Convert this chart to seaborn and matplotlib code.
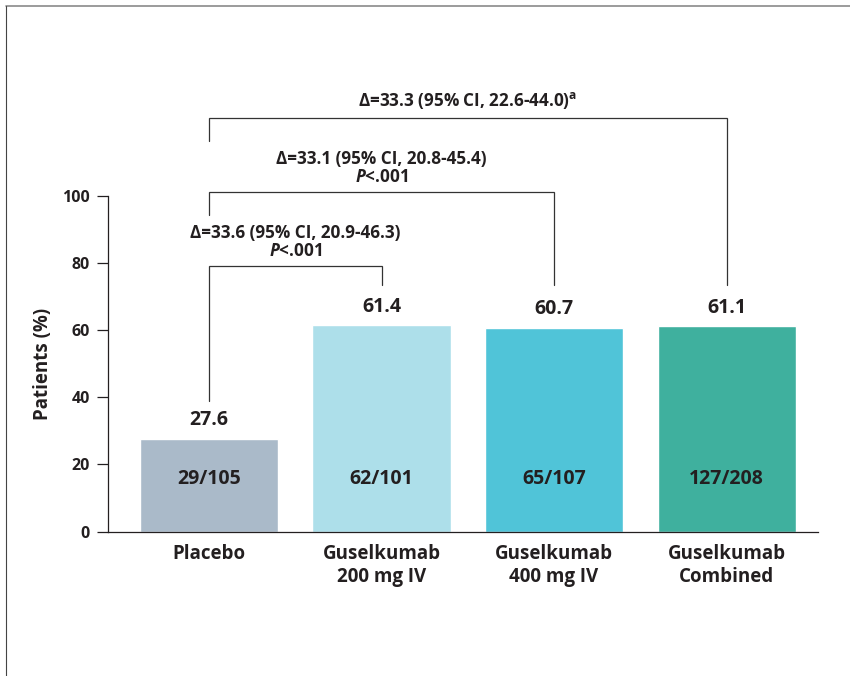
import pandas as pd
import seaborn as sns
import matplotlib.pyplot as plt
from matplotlib.lines import Line2D

# data
groups = ["Placebo", "Guselkumab\n200 mg IV", "Guselkumab\n400 mg IV", "Guselkumab\nCombined"]
pct = [27.6, 61.4, 60.7, 61.1]
counts = ["29/105", "62/101", "65/107", "127/208"]
colors = ["#aabac9", "#addfea", "#50c4d8", "#3fb09e"]

# comparison brackets vs placebo: (target group index, delta text, p text)
comparisons = [
    (1, "Δ=33.6 (95% CI, 20.9-46.3)", "$\\mathit{P}$<.001"),
    (2, "Δ=33.1 (95% CI, 20.8-45.4)", "$\\mathit{P}$<.001"),
    (3, "Δ=33.3 (95% CI, 22.6-44.0)$^{\\mathregular{a}}$", None),
]
bracket_top = [79, 101, 123]
placebo_leg_bottom = [38.8, 94.3, 116.3]
target_leg_bottom = 73.3

sns.set_style("white")
plt.rcParams["font.family"] = ["Open Sans", "DejaVu Sans"]
plt.rcParams["font.weight"] = "bold"
plt.rcParams["mathtext.fontset"] = "custom"
plt.rcParams["mathtext.rm"] = "Open Sans:bold"
plt.rcParams["mathtext.it"] = "Open Sans:italic:bold"
txt = "#231f20"

df = pd.DataFrame({"group": groups, "pct": pct})

fig = plt.figure(figsize=(8.5, 6.76), dpi=100)
ax = fig.add_axes([0.1271, 0.2135, 0.8353, 0.4970])
sns.barplot(data=df, x="group", y="pct", hue="group", palette=colors,
            width=0.8, saturation=1, legend=False, ax=ax)

ax.set_xlim(-0.585, 3.53)
ax.set_ylim(0, 100)
ax.set_yticks(range(0, 101, 20))
ax.set_xlabel("")
ax.set_ylabel("Patients (%)", fontsize=13.5, fontweight="bold", color=txt, labelpad=7)
ax.tick_params(axis="x", bottom=False, length=0, pad=9, labelsize=13.5, labelcolor=txt)
ax.tick_params(axis="y", left=True, length=8, width=0.9, pad=5, labelsize=11.5,
               labelcolor=txt, color="#231f20", direction="out")
for lab in ax.get_xticklabels():
    lab.set_linespacing(1.2)
sns.despine(ax=ax)
for s in ["left", "bottom"]:
    ax.spines[s].set_linewidth(0.9)
    ax.spines[s].set_color("#231f20")

for i, (v, c) in enumerate(zip(pct, counts)):
    ax.text(i, v + 5.5, f"{v:.1f}", ha="center", va="center", fontsize=14,
            fontweight="bold", color=txt)
    ax.text(i, 15.7, c, ha="center", va="center", fontsize=14,
            fontweight="bold", color=txt)

# brackets
lc = "#333333"
for (j, delta, p), top, pb in zip(comparisons, bracket_top, placebo_leg_bottom):
    ax.plot([0, 0, j, j], [pb, top, top, target_leg_bottom], color=lc, lw=0.9,
            clip_on=False, solid_joinstyle="miter")
    mid = j / 2
    if p is None:
        ax.text(mid, top + 5.2, delta, ha="center", va="center", fontsize=12.3,
                fontweight="bold", color=txt, clip_on=False)
    else:
        ax.text(mid, top + 9.9, delta, ha="center", va="center", fontsize=12.3,
                fontweight="bold", color=txt, clip_on=False)
        ax.text(mid, top + 4.6, p, ha="center", va="center", fontsize=12.3,
                fontweight="bold", color=txt, clip_on=False)

# frame lines around the panel
fig.add_artist(Line2D([6 / 850, 1], [1 - 6.3 / 676, 1 - 6.3 / 676],
                      transform=fig.transFigure, color="#8a8a8a", lw=1.2))
fig.add_artist(Line2D([6.3 / 850, 6.3 / 850], [0, 1 - 6.3 / 676],
                      transform=fig.transFigure, color="#444444", lw=0.8))

fig.savefig("out.png", dpi=100)
